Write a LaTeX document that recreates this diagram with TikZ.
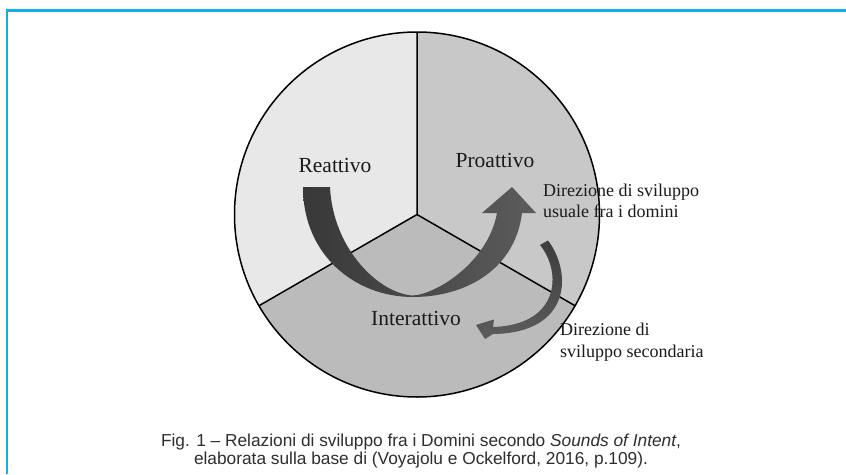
\documentclass[tikz,border=0pt]{standalone}
\usepackage{fontspec}
\setmainfont{Liberation Serif}
\newfontfamily\capfont[Ligatures=TeX]{Liberation Sans}
\definecolor{frameblue}{HTML}{12AEEA}
\definecolor{reatcol}{HTML}{E8E8E8}
\definecolor{proacol}{HTML}{C8C8C8}
\definecolor{intecol}{HTML}{BBBBBB}
\definecolor{txtcol}{HTML}{1A1A1A}
\definecolor{capcol}{HTML}{2E2E2E}
\begin{document}
\begin{tikzpicture}[x=1pt,y=-1pt,
  sectline/.style={draw=black,line width=1.5pt,line join=round},
  domlabel/.style={font=\fontsize{21.5}{24}\selectfont,text=txtcol,inner sep=0pt},
  notelabel/.style={font=\fontsize{18}{21.5}\selectfont,align=left,text=txtcol,inner sep=0pt},
  caplabel/.style={font=\capfont\fontsize{17.3}{17.8}\selectfont,align=center,text=capcol,inner sep=0pt}
]
\useasboundingbox (0,0) rectangle (846,474);
\fill[white] (0,0) rectangle (846,474);
% blue frame
\draw[frameblue,line width=2.2pt] (6,10.5) -- (846,10.5);
\draw[frameblue,line width=2.2pt] (7,9.4) -- (7,474);
% sectors
\coordinate (c) at (417,214.5);
\coordinate (top) at (417,32);
\coordinate (ll) at (258.95,305.75);
\coordinate (lr) at (575.05,305.75);
\fill[reatcol] (c) -- (top) arc[start angle=90,end angle=210,radius=182.5pt] -- cycle;
\fill[proacol] (c) -- (lr) arc[start angle=-30,end angle=90,radius=182.5pt] -- cycle;
\fill[intecol] (c) -- (ll) arc[start angle=210,end angle=330,radius=182.5pt] -- cycle;
\draw[sectline] (top) -- (c) -- (ll) (c) -- (lr);
\draw[sectline] (c) circle[radius=182.5pt];
% big arrow
\shade[left color=black!78,right color=black!64]
  (303,187) -- (330,187) .. controls (333,250) and (380,294) .. (413,295.5)
  .. controls (437,294) and (488,262) .. (497,213) -- (482,213) -- (512,187) -- (536,213) -- (522,213)
  .. controls (515,270) and (465,297) .. (413,297)
  .. controls (355,297) and (303,255) .. (303,187) -- cycle;
% small arrow
\shade[top color=black!76,bottom color=black!64]
  (540,245) -- (548,240.5) .. controls (572,272) and (572,333) .. (493,334)
  -- (485,339) -- (476,325) -- (494,319.5) -- (493,327)
  .. controls (560,325) and (562,272) .. (540,245) -- cycle;
% labels
\node[domlabel] (reat) at (335,165) {Reattivo};
\node[domlabel] (proa) at (495,160) {Proattivo};
\node[domlabel] (inte) at (416,318) {Interattivo};
\node[notelabel,anchor=west] (usual) at (543,201) {Direzione di sviluppo\\usuale fra i domini};
\node[notelabel,anchor=west] (second) at (560,342) {Direzione di\\sviluppo secondaria};
\node[caplabel] (cap) at (421,451) {Fig. 1 – Relazioni di sviluppo fra i Domini secondo \textit{Sounds of Intent},\\elaborata sulla base di (Voyajolu e Ockelford, 2016, p.109).};
\end{tikzpicture}
\end{document}
